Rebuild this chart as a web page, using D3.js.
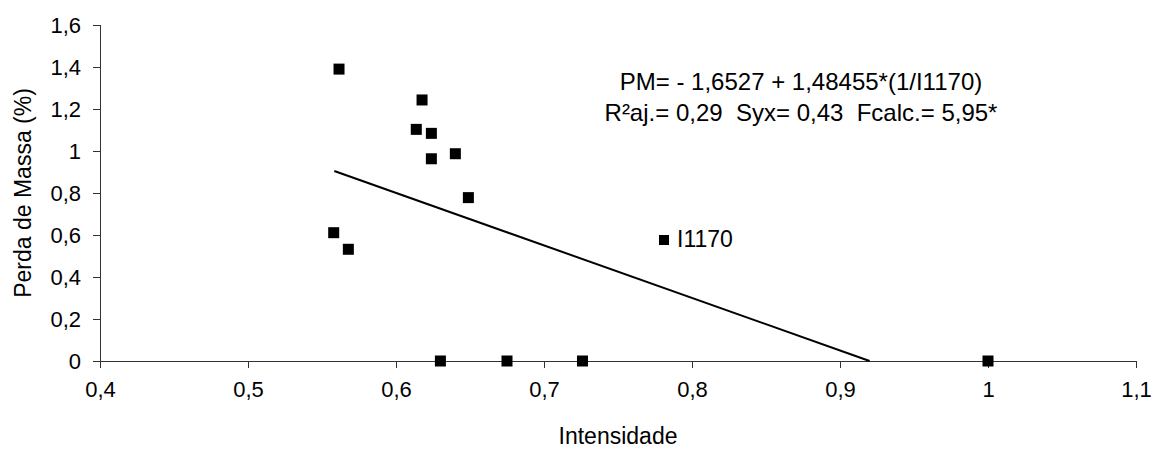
<!DOCTYPE html>
<html><head><meta charset="utf-8">
<script src="https://cdn.jsdelivr.net/npm/d3@7"></script>
<style>body{margin:0;background:#fff}svg{display:block}text{font-family:"Liberation Sans",Arial,sans-serif;fill:#000}</style>
</head><body><svg id="c" width="1159" height="450"></svg>
<script>
const intensidade = [0.5615,0.6176,0.6137,0.6239,0.6239,0.6401,0.6489,0.5579,0.5678,0.630,0.675,0.726,1.0];
const perdaMassa  = [1.390,1.243,1.103,1.084,0.963,0.987,0.778,0.611,0.532,0,0,0,0];
const trendX = [0.5583, 0.920];
const trendY = [0.905, 0];
const xTicks = [0.4,0.5,0.6,0.7,0.8,0.9,1.0,1.1];
const yTicks = [0,0.2,0.4,0.6,0.8,1.0,1.2,1.4,1.6];
const equationLines = ["PM= - 1,6527 + 1,48455*(1/I1170)", "R²aj.= 0,29  Syx= 0,43  Fcalc.= 5,95*"];
const legendLabel = "I1170";
const xTitle = "Intensidade", yTitle = "Perda de Massa (%)";

const svg = d3.select("#c");
const L=100,R=1136,T=25,B=361;
const x = d3.scaleLinear().domain([0.4,1.1]).range([L,R]);
const y = d3.scaleLinear().domain([0,1.6]).range([B,T]);
const fmt = d => d3.format("~g")(d).replace(".",",");
const axColor="#333";

const gx = svg.append("g").attr("transform",`translate(0,${B})`)
  .call(d3.axisBottom(x).tickValues(xTicks).tickSize(7).tickPadding(8).tickFormat(fmt));
const gy = svg.append("g").attr("transform",`translate(${L},0)`)
  .call(d3.axisLeft(y).tickValues(yTicks).tickSize(7).tickPadding(12).tickFormat(fmt));
[gx,gy].forEach(g=>{
  g.selectAll("path").attr("stroke",axColor).attr("stroke-width",1).attr("shape-rendering","crispEdges");
  g.selectAll("line").attr("stroke",axColor).attr("shape-rendering","crispEdges");
  g.selectAll("text").attr("font-size",22).attr("font-family","Liberation Sans, Arial, sans-serif").attr("fill","#000");
});
gx.selectAll("text").attr("dy","0.95em");

// trend line
svg.append("path")
  .datum(trendX.map((d,i)=>[d,trendY[i]]))
  .attr("d", d3.line().x(d=>x(d[0])).y(d=>y(d[1])))
  .attr("stroke","#000").attr("stroke-width",2).attr("fill","none");

// points
const s=11;
svg.selectAll("rect.pt").data(intensidade.map((d,i)=>[d,perdaMassa[i]])).join("rect")
  .attr("class","pt")
  .attr("x",d=>x(d[0])-s/2).attr("y",d=>y(d[1])-s/2)
  .attr("width",s).attr("height",s).attr("fill","#000");

// legend
svg.append("rect").attr("x",659).attr("y",235).attr("width",10).attr("height",10).attr("fill","#000");
svg.append("text").attr("x",677).attr("y",247).attr("font-size",23).text(legendLabel);

// equation
svg.selectAll("text.eq").data(equationLines).join("text").attr("class","eq")
  .attr("x",801).attr("y",(d,i)=>90+i*31).attr("text-anchor","middle")
  .attr("font-size",24).attr("xml:space","preserve").style("white-space","pre").text(d=>d);

// titles
svg.append("text").attr("x",(L+R)/2).attr("y",444).attr("text-anchor","middle").attr("font-size",23).text(xTitle);
svg.append("text").attr("transform","translate(31,193) rotate(-90)").attr("text-anchor","middle").attr("font-size",23).text(yTitle);
</script></body></html>
